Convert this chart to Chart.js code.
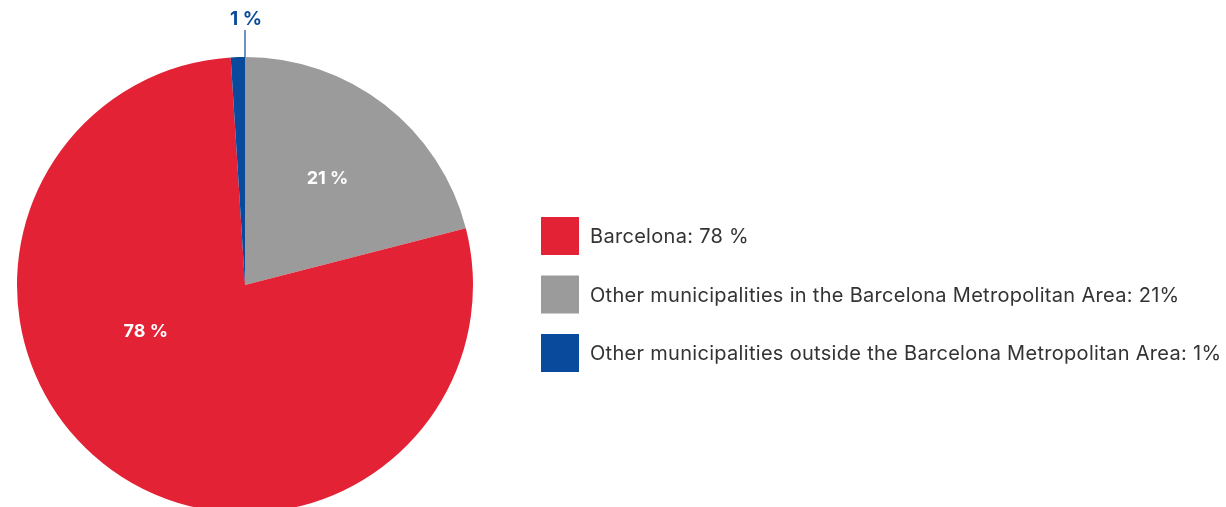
<!DOCTYPE html>
<html>
<head>
<meta charset="utf-8">
<script src="https://cdn.jsdelivr.net/npm/chart.js"></script>
<style>
  html, body { margin: 0; padding: 0; background: #fff; overflow: hidden; }
  #wrap { position: relative; width: 1226px; height: 514px; }
</style>
</head>
<body>
<div id="wrap"><canvas id="c" width="1226" height="514"></canvas></div>
<script>
// data (clockwise from 12 o'clock)
var categories = [
  "Other municipalities in the Barcelona Metropolitan Area",
  "Barcelona",
  "Other municipalities outside the Barcelona Metropolitan Area"
];
var shares = [21, 78, 1];
var sliceLabels = ["21 %", "78 %", "1 %"];
var legendTexts = [
  "Barcelona: 78 %",
  "Other municipalities in the Barcelona Metropolitan Area: 21%",
  "Other municipalities outside the Barcelona Metropolitan Area: 1%"
];
var legendOrder = [1, 0, 2]; // index into categories
var colors = ["#9b9b9b", "#e32235", "#0a4a9c"];

// label placement: fraction of radius, angle shift in degrees from slice middle
var labelPlace = [
  { r: 0.59, shift: 0, inside: true },
  { r: 0.48, shift: 29, inside: true },
  { r: 1.0, shift: 0, inside: false }
];

var labelsPlugin = {
  id: "labelsPlugin",
  afterDraw: function(chart) {
    var ctx = chart.ctx;
    var meta = chart.getDatasetMeta(0);
    ctx.save();
    meta.data.forEach(function(arc, i) {
      var p = arc.getProps(["x", "y", "startAngle", "endAngle", "outerRadius"], true);
      var mid = (p.startAngle + p.endAngle) / 2 + labelPlace[i].shift * Math.PI / 180;
      if (labelPlace[i].inside) {
        var rr = p.outerRadius * labelPlace[i].r;
        ctx.fillStyle = "#ffffff";
        ctx.font = "bold 18px Inter, Roboto, sans-serif";
        ctx.textAlign = "center";
        ctx.textBaseline = "middle";
        ctx.fillText(sliceLabels[i], p.x + Math.cos(mid) * rr, p.y + Math.sin(mid) * rr);
      } else {
        // leader line straight up from slice edge to label
        var ex = p.x + Math.cos(p.endAngle) * p.outerRadius;
        var ey = p.y + Math.sin(p.endAngle) * p.outerRadius;
        ctx.strokeStyle = colors[i];
        ctx.lineWidth = 1.2;
        ctx.beginPath();
        ctx.moveTo(ex, ey);
        ctx.lineTo(ex, ey - 27);
        ctx.stroke();
        ctx.fillStyle = colors[i];
        ctx.font = "bold 19px Inter, Roboto, sans-serif";
        ctx.textAlign = "center";
        ctx.textBaseline = "middle";
        ctx.fillText(sliceLabels[i], ex + 1, ey - 38);
      }
    });

    // legend
    var lx = 541, ly = 217, box = 38, gap = 58.5;
    ctx.font = "20px Inter, Roboto, sans-serif";
    ctx.letterSpacing = "0.3px";
    ctx.textAlign = "left";
    ctx.textBaseline = "middle";
    legendOrder.forEach(function(idx, k) {
      var y = ly + k * gap;
      ctx.fillStyle = colors[idx];
      ctx.fillRect(lx, y, box, box);
      ctx.fillStyle = "#333333";
      ctx.fillText(legendTexts[k], lx + 49, y + box / 2 + 1);
    });
    ctx.restore();
  }
};

new Chart(document.getElementById("c").getContext("2d"), {
  type: "pie",
  data: {
    labels: categories,
    datasets: [{
      data: shares,
      backgroundColor: colors,
      borderWidth: 0
    }]
  },
  options: {
    responsive: false,
    animation: false,
    layout: { padding: { left: 17, top: 57, right: 753, bottom: 1 } },
    plugins: { legend: { display: false }, tooltip: { enabled: false } }
  },
  plugins: [labelsPlugin]
});
</script>
</body>
</html>
